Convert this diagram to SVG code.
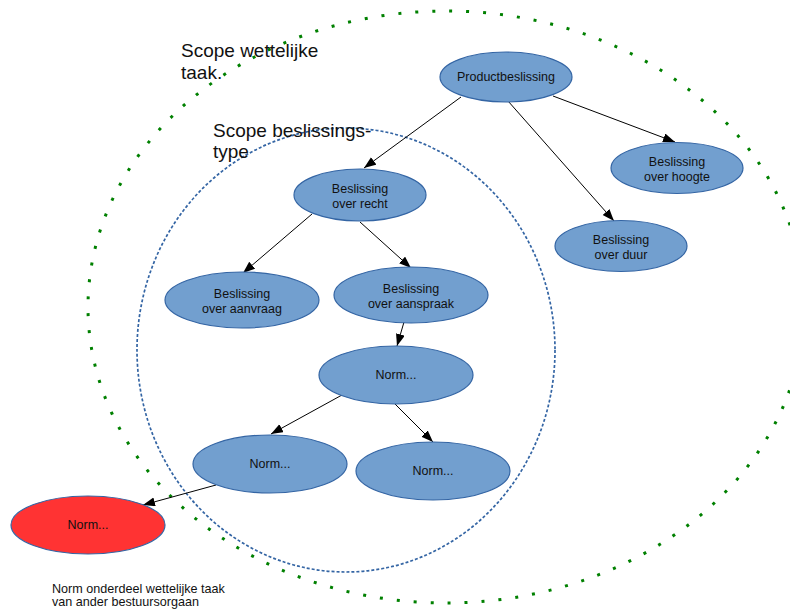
<svg xmlns="http://www.w3.org/2000/svg" width="790" height="610" viewBox="0 0 790 610">
<style>
.node{fill:#729fcf;stroke:#3465a4;stroke-width:1.2}
.red{fill:#ff3333;stroke:#3465a4;stroke-width:1.2}
.lbl{font-family:"Liberation Sans",Arial,sans-serif;font-size:12.5px;fill:#111;text-anchor:middle}
.scope{font-family:"Liberation Sans",Arial,sans-serif;font-size:19px;fill:#111}
.note{font-family:"Liberation Sans",Arial,sans-serif;font-size:12.6px;fill:#111}
.edge{stroke:#000;stroke-width:1;fill:none;marker-end:url(#arr)}
</style>
<defs>
<marker id="arr" markerUnits="userSpaceOnUse" markerWidth="13" markerHeight="10" refX="12" refY="4.5" orient="auto">
<path d="M0,0 L12,4.5 L0,9 z" fill="#000"/>
</marker>
</defs>
<rect width="790" height="610" fill="#fff"/>
<g id="scopes">
<ellipse cx="446" cy="307" rx="358" ry="296" fill="none" stroke="#008000" stroke-width="3" stroke-dasharray="3 14"/>
<ellipse cx="346" cy="350" rx="209" ry="222" fill="none" stroke="#3465a4" stroke-width="1.7" stroke-dasharray="3 2"/>
<text class="scope" x="181" y="57">Scope wettelijke</text>
<text class="scope" x="181" y="79">taak.</text>
<text class="scope" x="213" y="137">Scope beslissings-</text>
<text class="scope" x="213" y="158">type</text>
</g>
<g id="connectors">
<line class="edge" x1="461" y1="97" x2="364" y2="168"/>
<line class="edge" x1="508" y1="101" x2="614" y2="221"/>
<line class="edge" x1="553" y1="96" x2="675" y2="142"/>
<line class="edge" x1="312" y1="214" x2="243" y2="273"/>
<line class="edge" x1="360" y1="222" x2="411" y2="268"/>
<line class="edge" x1="404" y1="322" x2="397" y2="346"/>
<line class="edge" x1="342" y1="395" x2="271" y2="434"/>
<line class="edge" x1="395" y1="404" x2="433" y2="442"/>
<line class="edge" x1="216" y1="485" x2="143" y2="505"/>
</g>
<g id="productbeslissing">
<ellipse class="node" cx="506" cy="77" rx="66" ry="25"/>
<text class="lbl" x="506" y="81">Productbeslissing</text>
</g>
<g id="beslissing-hoogte">
<ellipse class="node" cx="677" cy="168" rx="66" ry="25.5"/>
<text class="lbl" x="677" y="166">Beslissing</text>
<text class="lbl" x="677" y="181">over hoogte</text>
</g>
<g id="beslissing-duur">
<ellipse class="node" cx="621" cy="246" rx="66" ry="25.5"/>
<text class="lbl" x="621" y="244">Beslissing</text>
<text class="lbl" x="621" y="259">over duur</text>
</g>
<g id="beslissing-recht">
<ellipse class="node" cx="360" cy="195" rx="66" ry="26"/>
<text class="lbl" x="360" y="193">Beslissing</text>
<text class="lbl" x="360" y="208">over recht</text>
</g>
<g id="beslissing-aanvraag">
<ellipse class="node" cx="242" cy="300" rx="77" ry="28"/>
<text class="lbl" x="242" y="298">Beslissing</text>
<text class="lbl" x="242" y="313">over aanvraag</text>
</g>
<g id="beslissing-aanspraak">
<ellipse class="node" cx="411" cy="295" rx="77" ry="28"/>
<text class="lbl" x="411" y="293">Beslissing</text>
<text class="lbl" x="411" y="308">over aanspraak</text>
</g>
<g id="norm-top">
<ellipse class="node" cx="396" cy="375" rx="77" ry="29"/>
<text class="lbl" x="396" y="379">Norm...</text>
</g>
<g id="norm-left">
<ellipse class="node" cx="270" cy="464" rx="77" ry="29"/>
<text class="lbl" x="270" y="468">Norm...</text>
</g>
<g id="norm-right">
<ellipse class="node" cx="433" cy="471" rx="77" ry="29"/>
<text class="lbl" x="433" y="475">Norm...</text>
</g>
<g id="norm-red">
<ellipse class="red" cx="88" cy="525" rx="77" ry="29"/>
<text class="lbl" x="88" y="529">Norm...</text>
</g>
<g id="note">
<text class="note" x="52" y="593">Norm onderdeel wettelijke taak</text>
<text class="note" x="52" y="606">van ander bestuursorgaan</text>
</g>
</svg>
